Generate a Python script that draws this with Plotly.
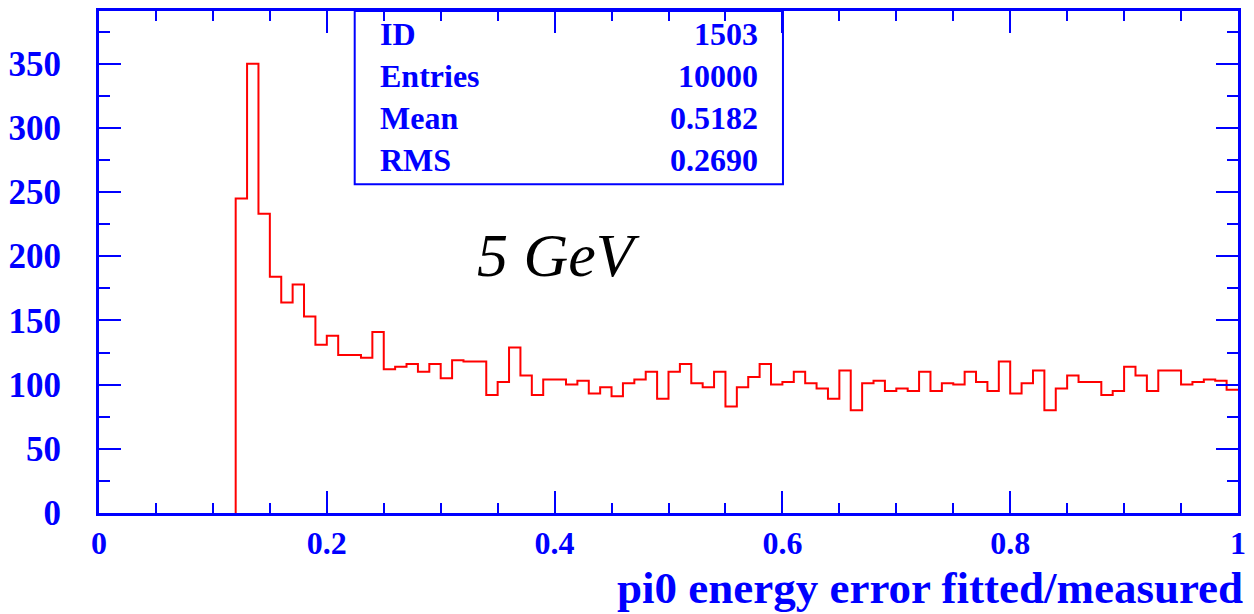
import numpy as np
import plotly.graph_objects as go

# ---- data ----
bin_start = 0.12
bin_width = 0.01
counts = [245, 350, 233, 184, 164, 178, 153, 131, 138, 123,
          123, 121, 141, 112, 114, 116, 110, 116, 105, 119,
          118, 118, 92, 102, 129, 107, 92, 104, 104, 100,
          103, 93, 98, 91, 101, 104, 110, 89, 110, 116,
          101, 98, 110, 83, 98, 106, 116, 100, 102, 110,
          101, 97, 89, 111, 80, 101, 103, 95, 97, 95,
          110, 95, 101, 100, 110, 102, 95, 118, 93, 101,
          111, 80, 97, 107, 102, 102, 92, 95, 114, 107,
          95, 111, 111, 100, 102, 104, 103, 96]
stat_labels = ["ID", "Entries", "Mean", "RMS"]
stat_values = ["1503", "10000", "0.5182", "0.2690"]
x_title = "pi0 energy error fitted/measured"
energy_label = "5 GeV"

BLUE = "#0000ff"
FONT = "Liberation Serif, Times New Roman, serif"

edges = np.round(bin_start + bin_width * np.arange(len(counts) + 1), 4)
xs = [edges[0]] + list(edges[:-1]) + [edges[-1]]
ys = [0] + counts + [counts[-1]]

fig = go.Figure()
fig.add_trace(go.Scatter(x=xs, y=ys, mode="lines", line_shape="hv",
                         line=dict(color="#ff0000", width=2), showlegend=False))

axis_common = dict(showgrid=False, zeroline=False, showline=True, linecolor=BLUE,
                   linewidth=3, mirror="ticks", ticks="inside", tickcolor=BLUE,
                   tickwidth=2)

fig.update_xaxes(range=[0, 1], dtick=0.2, tick0=0, ticklen=22,
                 minor=dict(dtick=0.05, ticklen=10, ticks="inside", tickcolor=BLUE, tickwidth=2),
                 ticklabelstandoff=0,
                 tickfont=dict(family=FONT, size=32, color=BLUE, weight="bold"),
                 **axis_common)
fig.update_yaxes(range=[0, 391], dtick=50, tick0=0, ticklen=22,
                 minor=dict(dtick=25, ticklen=11, ticks="inside", tickcolor=BLUE, tickwidth=2),
                 ticklabelstandoff=28,
                 tickfont=dict(family=FONT, size=35, color=BLUE, weight="bold"),
                 **axis_common)

# stats box
fig.add_shape(type="rect", xref="paper", yref="paper", x0=0.2245, x1=0.6005,
              y0=0.655, y1=1.0, line=dict(color=BLUE, width=2))
ys_stat = [0.955, 0.870, 0.787, 0.704]
for lab, val, yy in zip(stat_labels, stat_values, ys_stat):
    fig.add_annotation(xref="paper", yref="paper", x=0.2446, y=yy, text=lab,
                       showarrow=False, xanchor="left", yanchor="middle",
                       font=dict(family=FONT, size=32, color=BLUE, weight="bold"))
    fig.add_annotation(xref="paper", yref="paper", x=0.5805, y=yy, text=val,
                       showarrow=False, xanchor="right", yanchor="middle",
                       font=dict(family=FONT, size=32, color=BLUE, weight="bold"))

fig.add_annotation(xref="paper", yref="paper", x=(561 - 97) / 1149, y=(513 - 253) / 505,
                   text="<i>" + energy_label + "</i>", showarrow=False,
                   xanchor="center", yanchor="middle",
                   font=dict(family=FONT, size=62, color="black"))

fig.add_annotation(xref="paper", yref="paper", x=1.006, y=(513 - 588) / 505,
                   text=x_title, showarrow=False, xanchor="right", yanchor="middle",
                   font=dict(family=FONT, size=45, color=BLUE, weight="bold"))

fig.update_layout(width=1254, height=614, autosize=False,
                  margin=dict(l=97, r=8, t=8, b=101),
                  paper_bgcolor="white", plot_bgcolor="white")

fig.write_html("out.html")
